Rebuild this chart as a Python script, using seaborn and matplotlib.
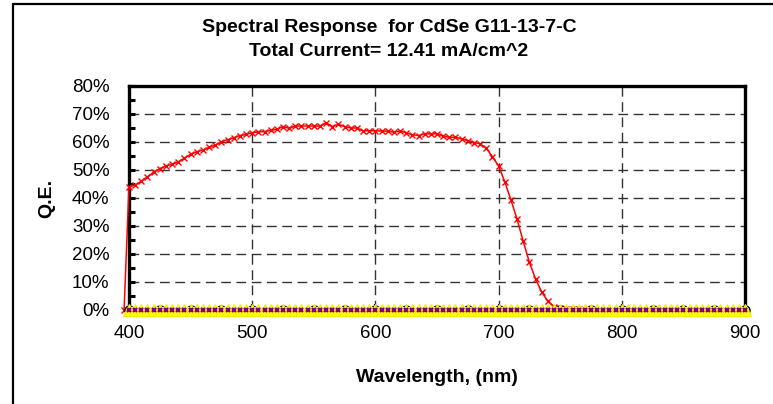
import matplotlib
matplotlib.use("Agg")
import matplotlib.pyplot as plt
from matplotlib.lines import Line2D
from matplotlib.ticker import PercentFormatter, MultipleLocator
import seaborn as sns
import pandas as pd
import numpy as np

# ---- data ----
qe_wavelength = [396, 400, 405, 410, 415, 420, 425, 430, 435, 440, 445, 450, 455, 460, 465, 470,
                 475, 480, 485, 490, 495, 500, 505, 510, 515, 520, 525, 530, 535, 540, 545,
                 550, 555, 560, 565, 570, 575, 580, 585, 590, 595, 600, 605, 610, 615, 620,
                 625, 630, 635, 640, 645, 650, 655, 660, 665, 670, 675, 680, 685, 690, 695,
                 700, 705, 710, 715, 720, 725, 730, 735, 740, 745, 750, 755, 760, 765]
qe_values = [0.000, 0.440, 0.446, 0.460, 0.476, 0.492, 0.505, 0.515, 0.520, 0.529, 0.542, 0.556,
             0.565, 0.571, 0.581, 0.588, 0.601, 0.608, 0.615, 0.623, 0.627, 0.633, 0.636,
             0.637, 0.642, 0.645, 0.655, 0.649, 0.657, 0.657, 0.657, 0.657, 0.657, 0.669,
             0.655, 0.663, 0.655, 0.650, 0.650, 0.640, 0.640, 0.640, 0.639, 0.639, 0.635,
             0.639, 0.633, 0.626, 0.623, 0.629, 0.629, 0.629, 0.621, 0.617, 0.617, 0.611,
             0.605, 0.598, 0.594, 0.577, 0.548, 0.514, 0.458, 0.393, 0.324, 0.245, 0.170,
             0.111, 0.064, 0.031, 0.012, 0.006, 0.003, 0.005, 0.002]

zero_wavelength = list(range(400, 905, 5))
zero_values = [0.0] * len(zero_wavelength)
ref_wavelength = list(range(400, 925, 25))
ref_values = [0.0] * len(ref_wavelength)

title_line1 = "Spectral Response  for CdSe G11-13-7-C"
title_line2 = "Total Current= 12.41 mA/cm^2"
x_label = "Wavelength, (nm)"
y_label = "Q.E."

df_qe = pd.DataFrame({"wl": qe_wavelength, "qe": qe_values})
df_zero = pd.DataFrame({"wl": zero_wavelength, "qe": zero_values})
df_ref = pd.DataFrame({"wl": ref_wavelength, "qe": ref_values})

# ---- style ----
sns.set_style("white")
plt.rcParams["font.family"] = ["Liberation Sans", "DejaVu Sans"]
plt.rcParams["text.color"] = "black"
plt.rcParams["axes.labelcolor"] = "black"
plt.rcParams["xtick.color"] = "black"
plt.rcParams["ytick.color"] = "black"

W, H = 773, 404
fig = plt.figure(figsize=(W / 100, H / 100), dpi=100)
ax = fig.add_axes([129 / W, 1 - 310 / H, (745 - 129) / W, (310 - 86) / H])

# gridlines
ax.set_axisbelow(True)
ax.grid(True, which="major", color="#333333", linestyle=(0, (7, 4)), linewidth=1.0)

sns.lineplot(data=df_qe, x="wl", y="qe", ax=ax, color="#FF0000", linewidth=1.1,
             marker="x", markersize=4, markeredgewidth=1.0, markeredgecolor="#FF0000",
             clip_on=False, zorder=3)
sns.lineplot(data=df_ref, x="wl", y="qe", ax=ax, color="black", linewidth=0,
             marker="o", markersize=6.5, markerfacecolor="white", markeredgecolor="black",
             markeredgewidth=1.0, clip_on=False, zorder=4)
sns.lineplot(data=df_zero, x="wl", y="qe", ax=ax, color="#FFFF00", linewidth=5,
             marker="^", markersize=8, markerfacecolor="#FFFF00", markeredgecolor="#F0F000",
             markeredgewidth=0.8, clip_on=False, zorder=5)
sns.lineplot(data=df_zero, x="wl", y="qe", ax=ax, color="#800080", linewidth=0,
             marker="x", markersize=3.5, markeredgewidth=1.6, markeredgecolor="#800080",
             clip_on=False, zorder=6)

ax.set_xlim(400, 900)
ax.set_ylim(0, 0.8)
ax.xaxis.set_major_locator(MultipleLocator(100))
ax.yaxis.set_major_locator(MultipleLocator(0.1))
ax.yaxis.set_minor_locator(MultipleLocator(0.05))
ax.yaxis.set_major_formatter(PercentFormatter(1.0, decimals=0))

ax.tick_params(axis="y", which="both", direction="in", length=4, width=2.2,
               color="black", labelsize=13.5, pad=14, left=True, labelcolor="black")
ax.tick_params(axis="x", which="major", direction="in", length=4, width=1.5,
               color="black", labelsize=13.5, pad=11, bottom=True, labelcolor="black")

for side in ["left", "right", "top", "bottom"]:
    ax.spines[side].set_visible(True)
    ax.spines[side].set_color("black")
    ax.spines[side].set_linewidth(2.4)

ax.set_xlabel(x_label, fontsize=14, fontweight="bold", labelpad=19, color="black")
ax.set_ylabel(y_label, fontsize=14, fontweight="bold", labelpad=12, color="black")
if ax.get_legend() is not None:
    ax.get_legend().remove()

fig.text(389 / W, 1 - 27 / H, title_line1, ha="center", va="center",
         fontsize=14, fontweight="bold", color="black")
fig.text(389 / W, 1 - 52 / H, title_line2, ha="center", va="center",
         fontsize=14, fontweight="bold", color="black")

# outer chart frame (left and top visible in the crop)
fig.add_artist(Line2D([12.5 / W, 12.5 / W], [0, 1 - 4 / H], transform=fig.transFigure,
                      color="black", linewidth=1.6))
fig.add_artist(Line2D([12.5 / W, 1], [1 - 4 / H, 1 - 4 / H], transform=fig.transFigure,
                      color="black", linewidth=1.6))

fig.savefig("out.png", dpi=100)
